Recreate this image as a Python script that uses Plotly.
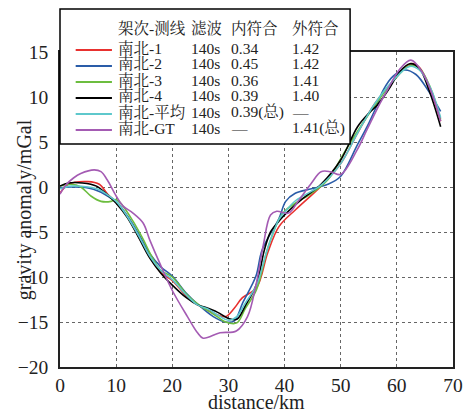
import plotly.graph_objects as go

# ---- profile data: distance (km) and gravity anomaly (mGal) ----
line1_x = [0, 1.5, 5, 7, 8.5, 10, 12, 14, 16, 18, 20, 22.5, 24.5, 26, 28, 29.5, 31, 32.5, 35, 37, 39, 42, 46.5, 50, 53, 56, 59, 62.5, 64, 65.7, 67.8]
line1_y = [-0.7, 0.3, 0.6, 0.3, -0.8, -1.7, -3.3, -5.5, -7.8, -9.5, -10.4, -12.1, -13.1, -13.6, -14.2, -14.4, -13.5, -12.3, -11.2, -7.3, -4.4, -2.5, 0.1, 2.6, 6.0, 9.2, 11.5, 13.7, 13.3, 11.2, 7.3]

line2_x = [0, 2, 5, 7, 9, 10, 12, 14, 16, 18, 20, 22.5, 24.5, 27.3, 29.5, 31, 32.6, 34.9, 36, 39, 40.2, 41.9, 44.8, 47.7, 50, 52.9, 54.7, 56.4, 57.6, 59.3, 61.4, 63.4, 65.7, 67.8]
line2_y = [-0.1, 0.0, -0.1, -0.5, -1.2, -1.6, -3.2, -5.2, -7.4, -8.9, -9.9, -11.8, -13.0, -14.4, -15.0, -14.9, -12.8, -9.9, -7.0, -3.5, -1.6, -0.7, -0.2, 0.3, 1.2, 4.6, 6.7, 9.0, 10.8, 12.3, 13.0, 12.5, 10.6, 8.4]

line3_x = [0, 2, 3.7, 5.5, 7.3, 9.1, 10, 11.2, 13, 14.8, 16.5, 18, 20, 22.5, 24.5, 26.5, 28, 29.5, 31.5, 33, 35, 37, 39, 40, 41.9, 44.8, 47.7, 50.6, 53, 56, 59, 62.3, 64, 66, 67.8]
line3_y = [0.1, 0.3, 0.0, -1.0, -1.6, -1.6, -1.4, -2.1, -3.8, -5.8, -7.9, -9.3, -10.0, -11.9, -13.0, -13.8, -14.4, -15.0, -15.1, -13.5, -11.4, -6.8, -3.6, -2.7, -1.8, -0.7, 0.8, 3.8, 6.2, 9.0, 11.5, 13.5, 13.2, 11.0, 7.5]

line4_x = [0, 1.5, 4, 6.5, 8.5, 10, 12, 14, 16, 18, 20, 22.5, 24.5, 26, 28, 30, 31.5, 33, 35, 36.4, 37.5, 39, 40, 43, 46.5, 50, 53, 55, 56.5, 58.5, 60.5, 62.3, 64, 65.7, 67.8]
line4_y = [0.1, 0.45, 0.45, 0.1, -0.9, -1.8, -3.4, -5.6, -7.9, -9.6, -10.9, -12.3, -13.1, -13.4, -13.9, -14.6, -14.7, -13.2, -10.8, -7.0, -5.0, -3.8, -3.1, -1.4, 0.3, 3.0, 6.7, 8.2, 9.1, 10.8, 12.8, 13.7, 13.2, 10.8, 6.7]

mean_x = [0, 2, 5, 7, 8.5, 10, 12, 14, 16, 18, 20, 22.5, 24.5, 26.5, 28, 30, 31.5, 33, 35, 37, 39, 40, 42, 46.5, 50, 53, 56, 59, 62.3, 64, 66, 67.8]
mean_y = [-0.2, 0.1, 0.0, -0.3, -0.9, -1.6, -3.3, -5.4, -7.7, -9.3, -10.3, -12.0, -13.1, -13.6, -14.2, -14.8, -14.4, -12.9, -10.9, -6.8, -3.6, -2.8, -1.5, 0.2, 2.6, 6.0, 9.2, 11.6, 13.4, 13.0, 11.0, 7.7]

gt_x = [0, 1, 2.4, 3.7, 6.1, 7.3, 8.4, 10, 11.2, 13, 14.8, 16, 18, 20, 22.7, 24.5, 25.5, 28.5, 31.4, 33.4, 34.9, 36.2, 37.5, 38.6, 40.7, 42.5, 44.8, 46.5, 48.2, 50, 52.9, 54.7, 57, 58.7, 60.4, 62.5, 64.6, 66.4, 67.8]
gt_y = [-0.8, 0.2, 1.0, 1.5, 1.9, 1.7, 0.8, -1.0, -2.1, -2.9, -4.0, -5.9, -8.8, -11.5, -14.4, -16.2, -16.8, -16.2, -16.0, -14.4, -10.9, -6.5, -3.1, -2.7, -2.9, -1.5, 0.45, 1.7, 1.7, 1.4, 4.1, 6.4, 9.3, 11.2, 13.0, 14.1, 12.7, 10.1, 7.3]

# ---- accuracy table ----
names = ["南北-1", "南北-2", "南北-3", "南北-4", "南北-平均", "南北-GT"]
filters = ["140s", "140s", "140s", "140s", "140s", "140s"]
internal = ["0.34", "0.45", "0.36", "0.39", "0.39(总)", "—"]
external = ["1.42", "1.42", "1.41", "1.40", "—", "1.41(总)"]
headers = ["架次-测线", "滤波", "内符合", "外符合"]
colors = ["#e8312f", "#2a5ca8", "#6cbd3f", "#000000", "#5ec8cc", "#a45bb3"]

series = [(line1_x, line1_y), (line2_x, line2_y), (line3_x, line3_y),
          (line4_x, line4_y), (mean_x, mean_y), (gt_x, gt_y)]

FONT = "Liberation Serif, Noto Serif CJK SC, Noto Sans CJK SC, serif"

fig = go.Figure()
for (xs, ys), name, col in zip(series, names, colors):
    fig.add_trace(go.Scatter(x=xs, y=ys, mode="lines", name=name,
                             line=dict(color=col, width=1.6, shape="spline", smoothing=1.0),
                             showlegend=False))

W, H = 475, 413
ML, MR, MT, MB = 60, 14, 52, 46
PW, PH = W - ML - MR, H - MT - MB


def px_x(p):
    return (p - ML) / PW


def px_y(p):
    return (H - MB - p) / PH


shapes = []
annotations = []

# table box overlapping the top-left of the plot
shapes.append(dict(type="rect", xref="paper", yref="paper",
                   x0=px_x(60), x1=px_x(356), y0=px_y(144), y1=px_y(9),
                   fillcolor="white", line=dict(color="black", width=1.5), layer="above"))

col_x = [117, 192, 232, 295]
row_y = [28, 48, 64, 80, 96, 112, 128]
for cx, txt in zip(col_x, headers):
    annotations.append(dict(xref="paper", yref="paper", x=px_x(cx), y=px_y(row_y[0]),
                            text=txt, showarrow=False, xanchor="left", yanchor="middle",
                            font=dict(family=FONT, size=15.5, color="#222")))
for i in range(len(names)):
    ry = row_y[i + 1]
    shapes.append(dict(type="line", xref="paper", yref="paper",
                       x0=px_x(76), x1=px_x(113), y0=px_y(ry + 2), y1=px_y(ry + 2),
                       line=dict(color=colors[i], width=2), layer="above"))
    for cx, txt in zip(col_x, [names[i], filters[i], internal[i], external[i]]):
        annotations.append(dict(xref="paper", yref="paper", x=px_x(cx), y=px_y(ry),
                                text=txt, showarrow=False, xanchor="left", yanchor="middle",
                                font=dict(family=FONT, size=15.5, color="#222")))

# axis titles
annotations.append(dict(xref="paper", yref="paper", x=0.5, y=px_y(402),
                        text="distance/km", showarrow=False, xanchor="center", yanchor="middle",
                        font=dict(family=FONT, size=20, color="#222")))
annotations.append(dict(xref="paper", yref="paper", x=px_x(24), y=0.5,
                        text="gravity anomaly/mGal", showarrow=False, textangle=-90,
                        xanchor="center", yanchor="middle",
                        font=dict(family=FONT, size=20, color="#222")))

axis_common = dict(showgrid=True, gridcolor="#666", griddash="3px,3px", gridwidth=1,
                   zeroline=False, showline=True, linecolor="#222", linewidth=1.5,
                   mirror=True, ticks="", tickfont=dict(family=FONT, size=19.5, color="#222"))

fig.update_layout(
    width=W, height=H,
    margin=dict(l=ML, r=MR, t=MT, b=MB),
    paper_bgcolor="white", plot_bgcolor="white",
    font=dict(family=FONT),
    xaxis=dict(range=[0, 70], dtick=10, ticklabelstandoff=0, **axis_common),
    yaxis=dict(range=[-20, 15], dtick=5, ticklabelstandoff=6, **axis_common),
    shapes=shapes, annotations=annotations,
    showlegend=False,
)

fig.write_html("out.html")
